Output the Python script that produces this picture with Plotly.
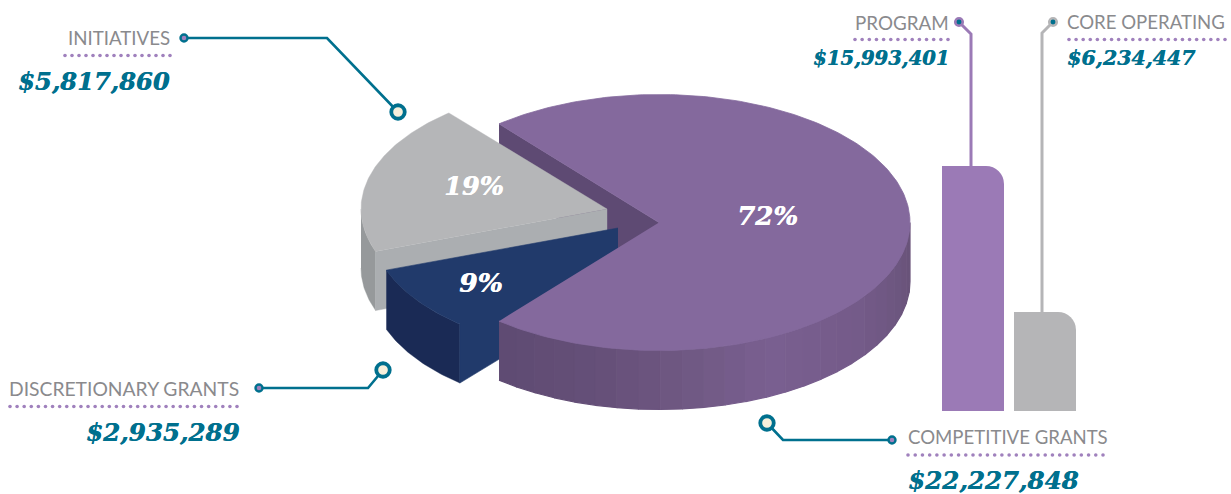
import numpy as np
import plotly.graph_objects as go

# ---- data ----
slice_names = ["COMPETITIVE GRANTS", "INITIATIVES", "DISCRETIONARY GRANTS"]
slice_values = [22227848, 5817860, 2935289]
slice_labels = ["72%", "19%", "9%"]
bar_names = ["PROGRAM", "CORE OPERATING"]
bar_values = [15993401, 6234447]
dollar_text = ["$22,227,848", "$5,817,860", "$2,935,289", "$15,993,401", "$6,234,447"]

# ---- drawing parameters ----
W, H = 1231, 494
TEAL = "#00708e"
GREY_TXT = "#8a8a8d"
PURPLE_DOT = "#a081bd"
DEPTH = 59
SERIF = "DejaVu Serif"
SANS = "Lato"

total = sum(slice_values)
shares = [v / total for v in slice_values]
# the artwork's perspective stretches each wedge a little
stretch = [1.0035, 1.033, 0.89]
sweeps = [s * 360 * k for s, k in zip(shares, stretch)]

fig = go.Figure()


def poly(xs, ys, color, lw=0.4):
    fig.add_trace(go.Scatter(x=list(xs), y=list(ys), mode="lines", fill="toself", fillcolor=color,
                             line=dict(color=color, width=lw), hoverinfo="skip", showlegend=False))


def arc(cx, cy, rx, ry, a0, a1, n=90):
    t = np.radians(np.linspace(a0, a1, n))
    return cx + rx * np.cos(t), cy - ry * np.sin(t)


# purple wedge: centred on the right, gap facing left
P = dict(cx=659, cy=222.5, rx=251, ry=128)
p_start = 180 - (360 - sweeps[0]) / 2
p_end = p_start - sweeps[0]
# grey wedge
G = dict(cx=607, cy=209, rx=246, ry=125.4)
g_start = 130.0
g_end = g_start + sweeps[1]
# blue wedge
B = dict(cx=618, cy=228, rx=246, ry=125.4)
b_start = g_end - 0.2
b_end = b_start + sweeps[2]

# inner cut face of the purple wedge
ux, uy = arc(**P, a0=p_start, a1=p_start, n=1)
poly([ux[0], P["cx"], P["cx"], ux[0]], [uy[0], P["cy"], P["cy"] + DEPTH, uy[0] + DEPTH], "#5e4a73")

# grey wedge
ax, ay = arc(**G, a0=180, a1=g_end, n=30)
poly(np.r_[ax, ax[::-1]], np.r_[ay, ay[::-1] + DEPTH], "#96999b")
poly([ax[-1], G["cx"], G["cx"], ax[-1]], [ay[-1], G["cy"], G["cy"] + DEPTH, ay[-1] + DEPTH], "#abaeb1")
ax, ay = arc(**G, a0=g_start, a1=g_end)
poly(np.r_[G["cx"], ax], np.r_[G["cy"], ay], "#b5b6b8")

# blue wedge: outer wall, then top and cut face as one shape
ax, ay = arc(**B, a0=b_start, a1=b_end, n=40)
poly(np.r_[ax, ax[::-1]], np.r_[ay, ay[::-1] + DEPTH], "#1a2a55")
poly(np.r_[B["cx"], ax, ax[-1], B["cx"]], np.r_[B["cy"], ay, ay[-1] + DEPTH, B["cy"] + DEPTH], "#213a6b", lw=0.6)

# purple outer wall, in vertical shading bands like the artwork
stop_x = [499, 600, 680, 770, 860, 895, 910]
stop_r = [0x5f, 0x66, 0x6f, 0x7a, 0x74, 0x6e, 0x69]
stop_g = [0x4b, 0x50, 0x58, 0x60, 0x5b, 0x57, 0x53]
stop_b = [0x73, 0x79, 0x82, 0x91, 0x89, 0x81, 0x79]
edge_angles = np.linspace(p_end, 0, 27)
for a0, a1 in zip(edge_angles[:-1], edge_angles[1:]):
    bx, by = arc(**P, a0=a0, a1=a1, n=6)
    xm = bx.mean()
    c = "rgb(%d,%d,%d)" % (np.interp(xm, stop_x, stop_r), np.interp(xm, stop_x, stop_g), np.interp(xm, stop_x, stop_b))
    poly(np.r_[bx, bx[::-1]], np.r_[by, by[::-1] + DEPTH], c, lw=1.2)

# purple top
ax, ay = arc(**P, a0=p_start, a1=p_end, n=240)
poly(np.r_[P["cx"], ax], np.r_[P["cy"], ay], "#84699d", lw=0.8)

# ---- leader lines ----
def leader(xs, ys, color, lw=2.6):
    fig.add_trace(go.Scatter(x=xs, y=ys, mode="lines", line=dict(color=color, width=lw),
                             hoverinfo="skip", showlegend=False))


def dot(x, y, size, fill, edge, lw):
    fig.add_trace(go.Scatter(x=[x], y=[y], mode="markers", hoverinfo="skip", showlegend=False,
                             marker=dict(size=size, color=fill, line=dict(color=edge, width=lw))))


leader([184, 327, 398], [38, 38, 112], TEAL)
leader([259, 368, 383], [388, 388, 370], TEAL)
leader([892, 783, 767], [440, 440, 423], TEAL)
leader([959, 971, 971], [22, 34, 167], "#9b7ab6", 3)
leader([1053, 1042, 1042], [22, 33, 313], "#b5b5b7", 3)
for x, y in [(398, 112), (383, 370), (767, 423)]:
    dot(x, y, 13.5, "#f6f0dc", TEAL, 3.8)
for x, y in [(184, 38), (259, 388), (892, 440)]:
    dot(x, y, 7, PURPLE_DOT, TEAL, 2.4)
dot(959, 22, 7.5, TEAL, "#9b7ab6", 2.6)
dot(1053, 22, 7.5, TEAL, "#b5b5b7", 2.6)

# ---- dotted rules ----
for x0, x1, y in [(65, 170, 55.5), (10, 237, 406.5), (908, 1103, 455), (855, 948, 39.5), (1069, 1225, 39.5)]:
    n = int(round((x1 - x0) / 7.1)) + 1
    fig.add_trace(go.Scatter(x=np.linspace(x0, x1, n), y=[y] * n, mode="markers", hoverinfo="skip", showlegend=False,
                             marker=dict(size=3.6, color=PURPLE_DOT, line=dict(width=0))))

# ---- side bars on their own hidden value axis ----
BAR_FLOOR = -390000
bar_w = 62 / 72
bar_colors = ["#9b7ab6", "#b5b5b7"]
bar_len = [v - BAR_FLOOR for v in bar_values]
# rounded bar, then square-off: full lower half and the left half of the top
fig.add_trace(go.Bar(x=bar_names, y=bar_len, base=BAR_FLOOR, width=bar_w,
                     marker=dict(color=bar_colors, cornerradius=18, line=dict(width=0)),
                     xaxis="x2", yaxis="y2", hoverinfo="skip", showlegend=False))
fig.add_trace(go.Bar(x=bar_names, y=bar_len, base=BAR_FLOOR, width=bar_w / 2,
                     offset=-bar_w / 2, marker=dict(color=bar_colors, line=dict(width=0)),
                     xaxis="x2", yaxis="y2", hoverinfo="skip", showlegend=False))
fig.add_trace(go.Bar(x=bar_names, y=[v / 2 for v in bar_len], base=BAR_FLOOR, width=bar_w,
                     marker=dict(color=bar_colors, line=dict(width=0)),
                     xaxis="x2", yaxis="y2", hoverinfo="skip", showlegend=False))

# ---- text ----
ann = []


def text(x, y, s, anchor, size, color, family, bold=False):
    nudge = {"right": 3, "left": -2, "center": 0}[anchor]
    f = dict(size=size, color=color, family=family,
             weight=700 if bold else 400, style="italic" if bold else "normal")
    if bold:
        f["shadow"] = "0.5px 0 0 %s" % color
    ann.append(dict(x=x + nudge, y=y, xref="x", yref="y", text=s, showarrow=False, xanchor=anchor,
                    yanchor="middle", font=f))


text(169, 38, slice_names[1], "right", 18.7, GREY_TXT, SANS)
text(238, 388, slice_names[2], "right", 19.3, GREY_TXT, SANS)
text(908, 437, slice_names[0], "left", 18.6, GREY_TXT, SANS)
text(948, 22, bar_names[0], "right", 18.8, GREY_TXT, SANS)
text(1067, 22, bar_names[1], "left", 18.6, GREY_TXT, SANS)

text(169, 81, dollar_text[1], "right", 24.2, TEAL, SERIF, True)
text(238, 432, dollar_text[2], "right", 24.5, TEAL, SERIF, True)
text(908, 480, dollar_text[0], "left", 24.5, TEAL, SERIF, True)
text(948, 58, dollar_text[3], "right", 19.6, TEAL, SERIF, True)
text(1067, 58, dollar_text[4], "left", 20.5, TEAL, SERIF, True)

text(767, 216, slice_labels[0], "center", 26, "white", SERIF, True)
text(474, 186, slice_labels[1], "center", 25.5, "white", SERIF, True)
text(481, 282, slice_labels[2], "center", 26.5, "white", SERIF, True)

# scale of the bar axis: 14.96 px per million, floor on the 411 px line
k = 14.96 / 1e6
top_px = 100
fig.update_layout(
    width=W, height=H, margin=dict(l=0, r=0, t=0, b=0), autosize=False,
    paper_bgcolor="white", plot_bgcolor="rgba(0,0,0,0)", showlegend=False, barmode="overlay",
    annotations=ann,
    xaxis=dict(range=[0, W], domain=[0, 1], visible=False, fixedrange=True),
    yaxis=dict(range=[H, 0], domain=[0, 1], visible=False, fixedrange=True),
    xaxis2=dict(domain=[937 / W, 1081 / W], range=[-0.5, 1.5], type="category", categoryorder="array",
                categoryarray=bar_names, visible=False, anchor="y2", fixedrange=True),
    yaxis2=dict(domain=[(H - 411) / H, (H - top_px) / H], range=[BAR_FLOOR, BAR_FLOOR + (411 - top_px) / k],
                visible=False, anchor="x2", fixedrange=True),
)

fig.write_html("out.html", config={"displayModeBar": False},
               post_script="document.body.style.margin='0';")
